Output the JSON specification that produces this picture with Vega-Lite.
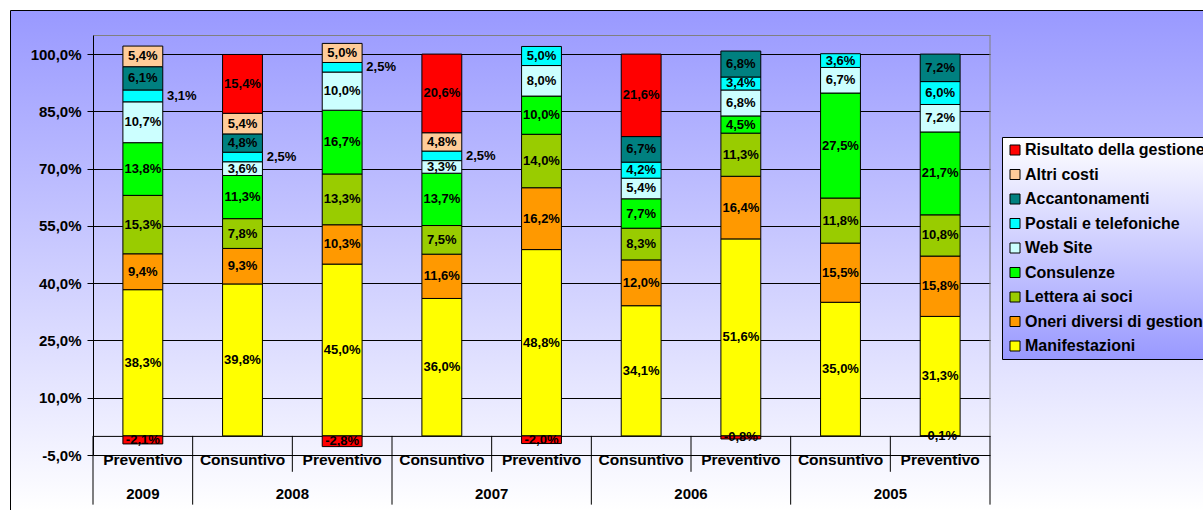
{
  "$schema": "https://vega.github.io/schema/vega-lite/v6.json",
  "width": 1193,
  "height": 500,
  "autosize": {"type": "none"},
  "padding": {"left": 10, "top": 10, "right": 0, "bottom": 0},
  "background": "#ffffff",
  "config": {
    "font": "Liberation Sans",
    "locale": {"number": {"decimal": ",", "thousands": ".", "grouping": [3], "currency": ["", " €"], "minus": "-"}},
    "view": {
      "fill": {"gradient": "linear", "x1": 0, "y1": 0, "x2": 0, "y2": 1, "stops": [{"offset": 0, "color": "#9999ff"}, {"offset": 1, "color": "#ffffff"}]},
      "stroke": "#000000",
      "strokeWidth": 1
    }
  },
  "datasets": {
    "main": [
      {"bar": "2009 Preventivo", "cat": "Manifestazioni", "ord": 1, "value": 0.383},
      {"bar": "2009 Preventivo", "cat": "Oneri diversi di gestione", "ord": 2, "value": 0.094},
      {"bar": "2009 Preventivo", "cat": "Lettera ai soci", "ord": 3, "value": 0.153},
      {"bar": "2009 Preventivo", "cat": "Consulenze", "ord": 4, "value": 0.138},
      {"bar": "2009 Preventivo", "cat": "Web Site", "ord": 5, "value": 0.107},
      {"bar": "2009 Preventivo", "cat": "Postali e telefoniche", "ord": 6, "value": 0.031},
      {"bar": "2009 Preventivo", "cat": "Accantonamenti", "ord": 7, "value": 0.061},
      {"bar": "2009 Preventivo", "cat": "Altri costi", "ord": 8, "value": 0.054},
      {"bar": "2009 Preventivo", "cat": "Risultato della gestione", "ord": 9, "value": -0.021},

      {"bar": "2008 Consuntivo", "cat": "Manifestazioni", "ord": 1, "value": 0.398},
      {"bar": "2008 Consuntivo", "cat": "Oneri diversi di gestione", "ord": 2, "value": 0.093},
      {"bar": "2008 Consuntivo", "cat": "Lettera ai soci", "ord": 3, "value": 0.078},
      {"bar": "2008 Consuntivo", "cat": "Consulenze", "ord": 4, "value": 0.113},
      {"bar": "2008 Consuntivo", "cat": "Web Site", "ord": 5, "value": 0.036},
      {"bar": "2008 Consuntivo", "cat": "Postali e telefoniche", "ord": 6, "value": 0.025},
      {"bar": "2008 Consuntivo", "cat": "Accantonamenti", "ord": 7, "value": 0.048},
      {"bar": "2008 Consuntivo", "cat": "Altri costi", "ord": 8, "value": 0.054},
      {"bar": "2008 Consuntivo", "cat": "Risultato della gestione", "ord": 9, "value": 0.154},

      {"bar": "2008 Preventivo", "cat": "Manifestazioni", "ord": 1, "value": 0.45},
      {"bar": "2008 Preventivo", "cat": "Oneri diversi di gestione", "ord": 2, "value": 0.103},
      {"bar": "2008 Preventivo", "cat": "Lettera ai soci", "ord": 3, "value": 0.133},
      {"bar": "2008 Preventivo", "cat": "Consulenze", "ord": 4, "value": 0.167},
      {"bar": "2008 Preventivo", "cat": "Web Site", "ord": 5, "value": 0.10},
      {"bar": "2008 Preventivo", "cat": "Postali e telefoniche", "ord": 6, "value": 0.025},
      {"bar": "2008 Preventivo", "cat": "Altri costi", "ord": 8, "value": 0.05},
      {"bar": "2008 Preventivo", "cat": "Risultato della gestione", "ord": 9, "value": -0.028},

      {"bar": "2007 Consuntivo", "cat": "Manifestazioni", "ord": 1, "value": 0.36},
      {"bar": "2007 Consuntivo", "cat": "Oneri diversi di gestione", "ord": 2, "value": 0.116},
      {"bar": "2007 Consuntivo", "cat": "Lettera ai soci", "ord": 3, "value": 0.075},
      {"bar": "2007 Consuntivo", "cat": "Consulenze", "ord": 4, "value": 0.137},
      {"bar": "2007 Consuntivo", "cat": "Web Site", "ord": 5, "value": 0.033},
      {"bar": "2007 Consuntivo", "cat": "Postali e telefoniche", "ord": 6, "value": 0.025},
      {"bar": "2007 Consuntivo", "cat": "Altri costi", "ord": 8, "value": 0.048},
      {"bar": "2007 Consuntivo", "cat": "Risultato della gestione", "ord": 9, "value": 0.206},

      {"bar": "2007 Preventivo", "cat": "Manifestazioni", "ord": 1, "value": 0.488},
      {"bar": "2007 Preventivo", "cat": "Oneri diversi di gestione", "ord": 2, "value": 0.162},
      {"bar": "2007 Preventivo", "cat": "Lettera ai soci", "ord": 3, "value": 0.14},
      {"bar": "2007 Preventivo", "cat": "Consulenze", "ord": 4, "value": 0.10},
      {"bar": "2007 Preventivo", "cat": "Web Site", "ord": 5, "value": 0.08},
      {"bar": "2007 Preventivo", "cat": "Postali e telefoniche", "ord": 6, "value": 0.05},
      {"bar": "2007 Preventivo", "cat": "Risultato della gestione", "ord": 9, "value": -0.02},

      {"bar": "2006 Consuntivo", "cat": "Manifestazioni", "ord": 1, "value": 0.341},
      {"bar": "2006 Consuntivo", "cat": "Oneri diversi di gestione", "ord": 2, "value": 0.12},
      {"bar": "2006 Consuntivo", "cat": "Lettera ai soci", "ord": 3, "value": 0.083},
      {"bar": "2006 Consuntivo", "cat": "Consulenze", "ord": 4, "value": 0.077},
      {"bar": "2006 Consuntivo", "cat": "Web Site", "ord": 5, "value": 0.054},
      {"bar": "2006 Consuntivo", "cat": "Postali e telefoniche", "ord": 6, "value": 0.042},
      {"bar": "2006 Consuntivo", "cat": "Accantonamenti", "ord": 7, "value": 0.067},
      {"bar": "2006 Consuntivo", "cat": "Risultato della gestione", "ord": 9, "value": 0.216},

      {"bar": "2006 Preventivo", "cat": "Manifestazioni", "ord": 1, "value": 0.516},
      {"bar": "2006 Preventivo", "cat": "Oneri diversi di gestione", "ord": 2, "value": 0.164},
      {"bar": "2006 Preventivo", "cat": "Lettera ai soci", "ord": 3, "value": 0.113},
      {"bar": "2006 Preventivo", "cat": "Consulenze", "ord": 4, "value": 0.045},
      {"bar": "2006 Preventivo", "cat": "Web Site", "ord": 5, "value": 0.068},
      {"bar": "2006 Preventivo", "cat": "Postali e telefoniche", "ord": 6, "value": 0.034},
      {"bar": "2006 Preventivo", "cat": "Accantonamenti", "ord": 7, "value": 0.068},
      {"bar": "2006 Preventivo", "cat": "Risultato della gestione", "ord": 9, "value": -0.008},

      {"bar": "2005 Consuntivo", "cat": "Manifestazioni", "ord": 1, "value": 0.35},
      {"bar": "2005 Consuntivo", "cat": "Oneri diversi di gestione", "ord": 2, "value": 0.155},
      {"bar": "2005 Consuntivo", "cat": "Lettera ai soci", "ord": 3, "value": 0.118},
      {"bar": "2005 Consuntivo", "cat": "Consulenze", "ord": 4, "value": 0.275},
      {"bar": "2005 Consuntivo", "cat": "Web Site", "ord": 5, "value": 0.067},
      {"bar": "2005 Consuntivo", "cat": "Postali e telefoniche", "ord": 6, "value": 0.036},

      {"bar": "2005 Preventivo", "cat": "Manifestazioni", "ord": 1, "value": 0.313},
      {"bar": "2005 Preventivo", "cat": "Oneri diversi di gestione", "ord": 2, "value": 0.158},
      {"bar": "2005 Preventivo", "cat": "Lettera ai soci", "ord": 3, "value": 0.108},
      {"bar": "2005 Preventivo", "cat": "Consulenze", "ord": 4, "value": 0.217},
      {"bar": "2005 Preventivo", "cat": "Web Site", "ord": 5, "value": 0.072},
      {"bar": "2005 Preventivo", "cat": "Postali e telefoniche", "ord": 6, "value": 0.06},
      {"bar": "2005 Preventivo", "cat": "Accantonamenti", "ord": 7, "value": 0.072},
      {"bar": "2005 Preventivo", "cat": "Risultato della gestione", "ord": 9, "value": -0.001}
    ],
    "longsep": [
      {"bar": "2009 Preventivo"},
      {"bar": "2008 Consuntivo"},
      {"bar": "2007 Consuntivo"},
      {"bar": "2006 Consuntivo"},
      {"bar": "2005 Consuntivo"}
    ],
    "shortsep": [
      {"bar": "2008 Preventivo"},
      {"bar": "2007 Preventivo"},
      {"bar": "2006 Preventivo"},
      {"bar": "2005 Preventivo"}
    ],
    "years": [
      {"bar": "2008 Consuntivo", "year": "2008"},
      {"bar": "2007 Consuntivo", "year": "2007"},
      {"bar": "2006 Consuntivo", "year": "2006"},
      {"bar": "2005 Consuntivo", "year": "2005"}
    ],
    "firstyear": [
      {"bar": "2009 Preventivo", "year": "2009"}
    ]
  },
  "layer": [
    {
      "data": {"name": "main"},
      "mark": {"type": "bar", "width": {"band": 0.4}, "stroke": "#000000", "strokeWidth": 1},
      "encoding": {
        "x": {
          "field": "bar", "type": "nominal",
          "scale": {
            "type": "band",
            "domain": ["2009 Preventivo", "2008 Consuntivo", "2008 Preventivo", "2007 Consuntivo", "2007 Preventivo", "2006 Consuntivo", "2006 Preventivo", "2005 Consuntivo", "2005 Preventivo"],
            "range": [83, 980],
            "paddingInner": 0,
            "paddingOuter": 0
          },
          "axis": {
            "title": null,
            "orient": "bottom",
            "offset": -74.1,
            "ticks": false,
            "grid": false,
            "domainColor": "#000000",
            "domainWidth": 1,
            "labelAngle": 0,
            "labelExpr": "split(datum.value, ' ')[1]",
            "labelFont": "Liberation Sans",
            "labelFontWeight": "bold",
            "labelFontSize": 15.5,
            "labelColor": "#000000",
            "labelPadding": 17
          }
        },
        "y": {
          "field": "value", "type": "quantitative", "stack": "zero",
          "scale": {"domain": [-0.05, 1.05], "range": [445, 25], "nice": false, "zero": false},
          "axis": {
            "title": null,
            "orient": "left",
            "offset": -83,
            "values": [-0.05, 0.1, 0.25, 0.4, 0.55, 0.7, 0.85, 1.0, 1.05],
            "format": ".1%",
            "labelExpr": "datum.value > 1.01 ? '' : datum.label",
            "grid": true,
            "gridColor": {"condition": {"test": "datum.value > 1.01", "value": "#808080"}, "value": "#000000"},
            "gridWidth": 1,
            "tickColor": {"condition": {"test": "datum.value > 1.01", "value": "transparent"}, "value": "#000000"},
            "tickSize": 6,
            "domainColor": "#000000",
            "labelFont": "Liberation Sans",
            "labelFontWeight": "bold",
            "labelFontSize": 15,
            "labelColor": "#000000",
            "labelPadding": 6
          }
        },
        "color": {
          "field": "cat", "type": "nominal",
          "scale": {
            "domain": ["Risultato della gestione", "Altri costi", "Accantonamenti", "Postali e telefoniche", "Web Site", "Consulenze", "Lettera ai soci", "Oneri diversi di gestione", "Manifestazioni"],
            "range": ["#ff0000", "#ffcc99", "#008080", "#00ffff", "#ccffff", "#00ff00", "#99cc00", "#ff9900", "#ffff00"]
          },
          "legend": {
            "title": null,
            "orient": "none",
            "legendX": 992,
            "legendY": 127,
            "symbolType": "square",
            "symbolSize": 100,
            "symbolStrokeColor": "#000000",
            "symbolStrokeWidth": 1,
            "labelFont": "Liberation Sans",
            "labelFontWeight": "bold",
            "labelFontSize": 16,
            "labelColor": "#000000",
            "labelLimit": 400,
            "labelOffset": 2,
            "rowPadding": 8.5,
            "padding": 5,
            "strokeColor": "#000000",
            "fillColor": {"value": {"gradient": "linear", "x1": 0, "y1": 0, "x2": 0, "y2": 1, "stops": [{"offset": 0, "color": "#ffffff"}, {"offset": 1, "color": "#9999ff"}]}}
          }
        },
        "order": {"field": "ord", "type": "quantitative"}
      }
    },
    {
      "data": {"name": "main"},
      "mark": {"type": "text", "font": "Liberation Sans", "fontWeight": "bold", "fontSize": 13, "color": "#000000", "baseline": "middle", "align": "center"},
      "encoding": {
        "x": {"field": "bar", "type": "nominal"},
        "y": {"field": "value", "type": "quantitative", "stack": "zero", "bandPosition": 0.5},
        "detail": {"field": "cat", "type": "nominal"},
        "order": {"field": "ord", "type": "quantitative"},
        "text": {"field": "value", "type": "quantitative", "format": ".1%"},
        "opacity": {"condition": {"test": "datum.value > 0 && datum.value < 0.032", "value": 0}, "value": 1}
      }
    },
    {
      "data": {"name": "main"},
      "mark": {"type": "text", "font": "Liberation Sans", "fontWeight": "bold", "fontSize": 13, "color": "#000000", "baseline": "middle", "align": "center", "dx": 39},
      "encoding": {
        "x": {"field": "bar", "type": "nominal"},
        "y": {"field": "value", "type": "quantitative", "stack": "zero", "bandPosition": 0.5},
        "detail": {"field": "cat", "type": "nominal"},
        "order": {"field": "ord", "type": "quantitative"},
        "text": {"field": "value", "type": "quantitative", "format": ".1%"},
        "opacity": {"condition": {"test": "datum.value > 0 && datum.value < 0.032", "value": 1}, "value": 0}
      }
    },
    {
      "data": {"name": "longsep"},
      "mark": {"type": "rule", "color": "#000000", "strokeWidth": 1},
      "encoding": {
        "x": {"field": "bar", "type": "nominal", "bandPosition": 0},
        "y": {"datum": 0, "type": "quantitative"},
        "y2": {"datum": -0.18}
      }
    },
    {
      "data": {"name": "shortsep"},
      "mark": {"type": "rule", "color": "#000000", "strokeWidth": 1},
      "encoding": {
        "x": {"field": "bar", "type": "nominal", "bandPosition": 0},
        "y": {"datum": 0, "type": "quantitative"},
        "y2": {"datum": -0.094}
      }
    },
    {
      "data": {"values": [{}]},
      "mark": {"type": "rule", "color": "#808080", "strokeWidth": 1},
      "encoding": {
        "x": {"datum": "2005 Preventivo", "type": "nominal", "bandPosition": 1},
        "y": {"datum": 1.05, "type": "quantitative"},
        "y2": {"datum": 0}
      }
    },
    {
      "data": {"values": [{}]},
      "mark": {"type": "rule", "color": "#000000", "strokeWidth": 1},
      "encoding": {
        "x": {"datum": "2005 Preventivo", "type": "nominal", "bandPosition": 1},
        "y": {"datum": 0, "type": "quantitative"},
        "y2": {"datum": -0.18}
      }
    },
    {
      "data": {"name": "years"},
      "mark": {"type": "text", "font": "Liberation Sans", "fontWeight": "bold", "fontSize": 15, "color": "#000000", "baseline": "middle", "align": "center"},
      "encoding": {
        "x": {"field": "bar", "type": "nominal", "bandPosition": 1},
        "y": {"datum": -0.152, "type": "quantitative"},
        "text": {"field": "year", "type": "nominal"}
      }
    },
    {
      "data": {"name": "firstyear"},
      "mark": {"type": "text", "font": "Liberation Sans", "fontWeight": "bold", "fontSize": 15, "color": "#000000", "baseline": "middle", "align": "center"},
      "encoding": {
        "x": {"field": "bar", "type": "nominal", "bandPosition": 0.5},
        "y": {"datum": -0.152, "type": "quantitative"},
        "text": {"field": "year", "type": "nominal"}
      }
    }
  ]
}
